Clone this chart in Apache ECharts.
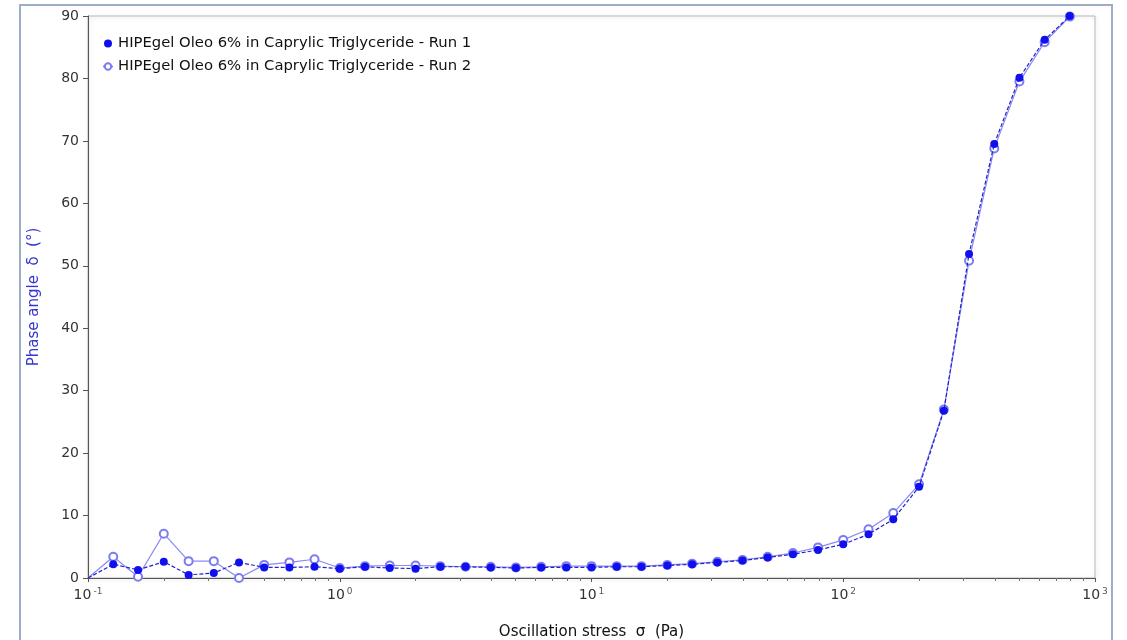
<!DOCTYPE html>
<html>
<head>
<meta charset="utf-8">
<script src="https://cdn.jsdelivr.net/npm/echarts@6/dist/echarts.min.js"></script>
<style>
  html, body { margin: 0; padding: 0; background: #fff; }
  #chart { width: 1127px; height: 640px; }
</style>
</head>
<body>
<div id="chart"></div>
<script>
const stress = [0.1, 0.126, 0.158, 0.2, 0.251, 0.316, 0.398, 0.501, 0.631, 0.794,
  1, 1.26, 1.58, 2, 2.51, 3.16, 3.98, 5.01, 6.31, 7.94,
  10, 12.6, 15.8, 20, 25.1, 31.6, 39.8, 50.1, 63.1, 79.4,
  100, 126, 158, 200, 251, 316, 398, 501, 631, 794];
const run1 = [0, 2.2, 1.3, 2.6, 0.5, 0.8, 2.5, 1.7, 1.7, 1.8,
  1.5, 1.8, 1.6, 1.5, 1.8, 1.8, 1.7, 1.6, 1.7, 1.7,
  1.7, 1.8, 1.8, 2.0, 2.2, 2.5, 2.8, 3.3, 3.8, 4.5,
  5.4, 7.0, 9.4, 14.6, 26.8, 51.9, 69.5, 80.1, 86.2, 90];
const run2 = [0, 3.4, 0.2, 7.1, 2.7, 2.7, 0, 2.1, 2.5, 3.0,
  1.6, 1.9, 2.0, 2.0, 1.9, 1.8, 1.8, 1.7, 1.8, 1.9,
  1.9, 1.9, 1.9, 2.1, 2.3, 2.6, 2.9, 3.4, 4.0, 4.9,
  6.1, 7.8, 10.4, 15.0, 27.0, 50.8, 68.8, 79.5, 85.8, 89.9];
const seriesNames = ['HIPEgel Oleo 6% in Caprylic Triglyceride - Run 1',
                     'HIPEgel Oleo 6% in Caprylic Triglyceride - Run 2'];
const xTitle = 'Oscillation stress  \u03c3  (Pa)';
const yTitle = 'Phase angle  \u03b4  (\u00b0)';

function pairs(ys) {
  return stress.map((x, i) => i === 0 ? { value: [x, ys[i]], symbolSize: 0 } : [x, ys[i]]);
}

const chart = echarts.init(document.getElementById('chart'));
const font = 'DejaVu Sans, Verdana, sans-serif';
chart.setOption({
  animation: false,
  backgroundColor: '#fff',
  graphic: [{
    type: 'rect',
    shape: { x: 20, y: 5, width: 1092, height: 660 },
    style: { fill: 'none', stroke: '#9eadc6', lineWidth: 2 },
    silent: true
  }],
  grid: {
    left: 88, right: 32, top: 16, bottom: 62,
    containLabel: false, outerBoundsMode: 'none',
    show: true, borderColor: '#b8b8b8', borderWidth: 1,
    shadowColor: 'rgba(0,0,0,0.18)', shadowBlur: 4, shadowOffsetX: 1, shadowOffsetY: 1
  },
  legend: {
    show: true,
    left: 97, top: 31, orient: 'vertical',
    itemGap: 8, itemWidth: 10, itemHeight: 8,
    textStyle: { fontFamily: font, fontSize: 14.8, color: '#111' },
    data: [
      { name: seriesNames[0], icon: 'circle' },
      { name: seriesNames[1] }
    ]
  },
  xAxis: {
    type: 'log', min: 0.1, max: 1000, logBase: 10,
    name: xTitle, nameLocation: 'middle', nameGap: 47,
    nameTextStyle: { fontFamily: font, fontSize: 15, color: '#111' },
    axisLine: { show: true, lineStyle: { color: '#555', width: 1 } },
    axisTick: { show: true, length: 4, lineStyle: { color: '#555' } },
    minorTick: { show: true, splitNumber: 9, length: 3, lineStyle: { color: '#777' } },
    splitLine: { show: false },
    axisLabel: {
      fontFamily: font, fontSize: 14, color: '#333', margin: 9,
      formatter: function (v) {
        const e = Math.round(Math.log10(v));
        return '10{sup|' + (e < 0 ? '-' + (-e) : e) + '}';
      },
      rich: { sup: { fontSize: 9, verticalAlign: 'top', padding: [0, 0, 8, 2], color: '#555', fontFamily: font } }
    }
  },
  yAxis: {
    type: 'value', min: 0, max: 90, interval: 10,
    name: yTitle, nameLocation: 'middle', nameGap: 46,
    nameTextStyle: { fontFamily: font, fontSize: 15, color: '#3535d0' },
    axisLine: { show: true, lineStyle: { color: '#555', width: 1 } },
    axisTick: { show: true, length: 5, lineStyle: { color: '#555' } },
    splitLine: { show: false },
    axisLabel: { fontFamily: font, fontSize: 14, color: '#333', margin: 9 }
  },
  series: [
    {
      name: seriesNames[0], type: 'line', data: pairs(run1),
      symbol: 'circle', symbolSize: 8,
      itemStyle: { color: '#1010ee' },
      lineStyle: { color: '#2222cc', width: 1.2, type: [4, 2] },
      z: 3
    },
    {
      name: seriesNames[1], type: 'line', data: pairs(run2),
      symbol: 'emptyCircle', symbolSize: 8,
      itemStyle: { color: '#7c7cf0', borderWidth: 1 },
      lineStyle: { color: '#8a8af2', width: 1.2 },
      z: 2
    }
  ]
});
</script>
</body>
</html>
